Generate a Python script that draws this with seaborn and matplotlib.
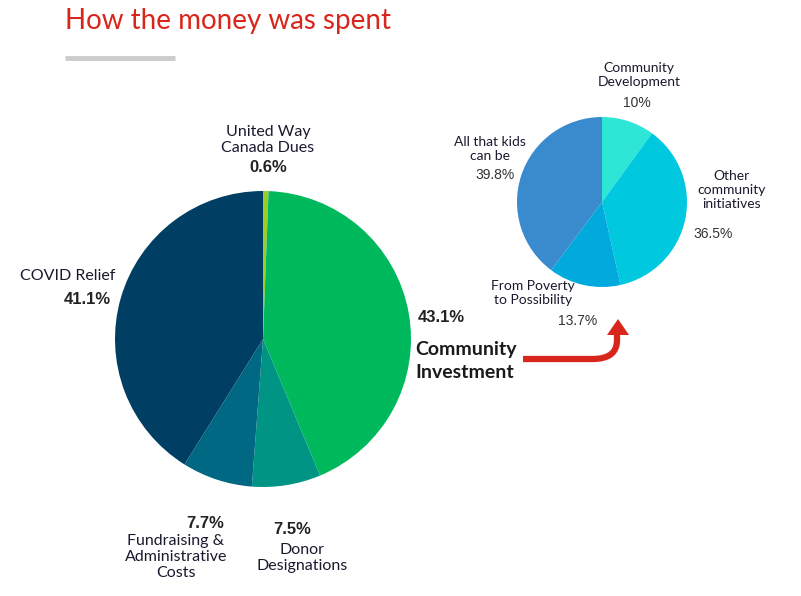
import matplotlib.pyplot as plt
import seaborn as sns
from matplotlib.path import Path
from matplotlib.patches import PathPatch, Polygon

# main pie, clockwise from the top
main_labels = ["United Way\nCanada Dues", "Community\nInvestment", "Donor\nDesignations",
               "Fundraising &\nAdministrative\nCosts", "COVID Relief"]
main_values = [0.6, 43.1, 7.5, 7.7, 41.1]
main_colors = ["#9ccc2c", "#00b95c", "#009485", "#006882", "#003f63"]

# community investment breakdown, clockwise from the top
sub_labels = ["Community\nDevelopment", "Other\ncommunity\ninitiatives",
              "From Poverty\nto Possibility", "All that kids\ncan be"]
sub_values = [10, 36.5, 13.7, 39.8]
sub_colors = ["#2ee6d6", "#00c8de", "#00aadc", "#3a8bcd"]

sns.set_theme(style="white")
plt.rcParams["font.family"] = ["Lato", "DejaVu Sans"]

W, H = 801, 596
fig = plt.figure(figsize=(W / 100, H / 100), dpi=100)


def draw_pie(cx, cy, r, values, colors):
    ax = fig.add_axes([(cx - r) / W, (H - cy - r) / H, 2 * r / W, 2 * r / H])
    ax.pie(values, colors=colors, startangle=90, counterclock=False,
           radius=1, wedgeprops={"linewidth": 0})
    ax.set_xlim(-1, 1)
    ax.set_ylim(-1, 1)
    ax.axis("off")
    return ax


draw_pie(263, 339, 148, main_values, main_colors)
draw_pie(602, 202, 85, sub_values, sub_colors)

# overlay in pixel coordinates for text and arrow
ov = fig.add_axes([0, 0, 1, 1], zorder=5)
ov.set_xlim(0, W)
ov.set_ylim(H, 0)
ov.axis("off")

ov.text(65, 21, "How the money was spent", color="#d9261c", fontsize=20,
        ha="left", va="center")
ov.plot([65, 175], [58, 58], color="#cccccc", lw=3.5, solid_capstyle="butt")

lab = dict(color="#1a1a2e", fontsize=11.5, linespacing=1.15)
pct = dict(color="#222222", fontsize=12, fontweight="bold", family="Liberation Sans")

ov.text(268, 140, main_labels[0], ha="center", va="center", **lab)
ov.text(268, 167, "0.6%", ha="center", va="center", **pct)

ov.text(20, 276, main_labels[4], ha="left", va="center", **lab)
ov.text(111, 299, "41.1%", ha="right", va="center", **pct)

ov.text(418, 318, "43.1%", ha="left", va="center", **pct)
ov.text(415, 361, main_labels[1], ha="left", va="center", color="#1a1a1a",
        fontsize=14, fontweight="bold", linespacing=1.5)

ov.text(224, 523, "7.7%", ha="right", va="center", **pct)
ov.text(176, 557, main_labels[3], ha="center", va="center", **lab)

ov.text(292, 529, "7.5%", ha="center", va="center", **pct)
ov.text(302, 558, main_labels[2], ha="center", va="center", **lab)

slab = dict(color="#1a1a2e", fontsize=10, linespacing=1.2)
spct = dict(color="#333333", fontsize=10, family="Liberation Sans")

ov.text(639, 75, sub_labels[0], ha="center", va="center", **slab)
ov.text(637, 103, "10%", ha="center", va="center", **spct)

ov.text(732, 190, sub_labels[1], ha="center", va="center", **slab)
ov.text(713, 234, "36.5%", ha="center", va="center", **spct)

ov.text(533, 293, sub_labels[2], ha="center", va="center", **slab)
ov.text(578, 321, "13.7%", ha="center", va="center", **spct)

ov.text(490, 149, sub_labels[3], ha="center", va="center", **slab)
ov.text(495, 175, "39.8%", ha="center", va="center", **spct)

# curved red arrow
red = "#d9261c"
verts = [(523, 359), (592, 359), (610, 359), (617, 352), (617, 340), (617, 333)]
codes = [Path.MOVETO, Path.LINETO, Path.CURVE4, Path.CURVE4, Path.CURVE4, Path.LINETO]
ov.add_patch(PathPatch(Path(verts, codes), facecolor="none", edgecolor=red,
                       lw=4.5, capstyle="butt"))
ov.add_patch(Polygon([(607, 335), (629, 335), (618, 319)], closed=True,
                     facecolor=red, edgecolor="none"))

fig.savefig("out.png", dpi=100)
